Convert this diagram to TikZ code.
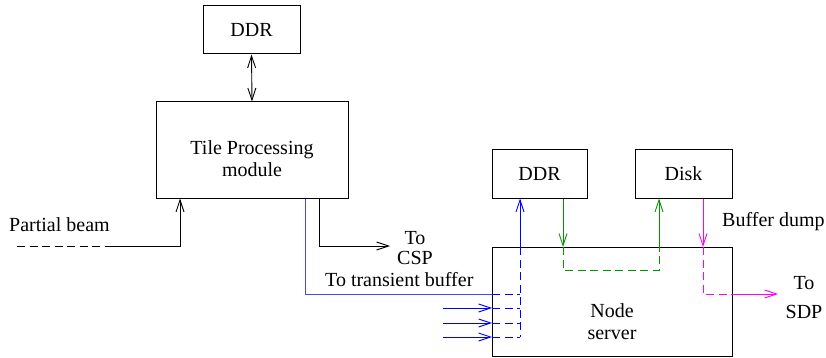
\documentclass[tikz,border=0pt]{standalone}
\usepackage{fontspec}
\setmainfont{Liberation Serif}
\usetikzlibrary{arrows.meta}
\definecolor{fblue}{RGB}{0,0,255}
\definecolor{lblue}{RGB}{70,70,255}
\definecolor{fgreen}{RGB}{0,150,0}
\definecolor{fmag}{RGB}{255,0,255}
\begin{document}
\begin{tikzpicture}[x=1pt,y=-1pt,
  every node/.style={font=\fontsize{20}{22}\selectfont, inner sep=0pt},
  box/.style={draw, line width=1pt, minimum width=#1},
  lbl/.style={align=center},
  conn/.style={line width=0.9pt},
  dsh/.style={line width=0.9pt, dash pattern=on 8pt off 4.5pt},
  >={Straight Barb[length=12pt,width=8pt]}]
\useasboundingbox (0,0) rectangle (826,358);
% boxes
\node[box=97pt, minimum height=48pt] (ddrA) at (251.5,30) {DDR};
\node[box=192pt, minimum height=96pt] (tpm) at (252,150) {};
\node[lbl] (tpmtext) at (252,159) {Tile Processing\\module};
\node[box=95pt, minimum height=48pt] (ddrB) at (539.5,174) {DDR};
\node[box=97pt, minimum height=48pt] (disk) at (683.5,174) {Disk};
\node[box=240pt, minimum height=109pt] (ns) at (612,301.5) {};
\node[lbl] (nstext) at (612,322) {Node\\server};
% labels
\node[anchor=west] (pbl) at (9,225) {Partial beam};
\node[lbl] (csp) at (415,248) {To\\[-2pt]CSP};
\node[anchor=west] (tbl) at (325,280) {To transient buffer};
\node[anchor=west] (bdl) at (722,222) {Buffer dump};
\node[lbl] (sdp) at (804,298) {To\\[7pt]SDP};
% DDR <-> TPM
\draw[conn,<->] (ddrA.south) -- (tpm.north);
% partial beam
\coordinate (pb0) at (17,246);
\coordinate (pb1) at (108,246);
\coordinate (pb2) at (180,246);
\draw[dsh] (pb0) -- (pb1);
\draw[conn,->] (pb1) -- (pb2) -- (tpm.south -| pb2);
% to CSP
\coordinate (c0) at (319,198);
\coordinate (c1) at (319,246);
\coordinate (c2) at (390,246);
\draw[conn,->] (tpm.south -| c0) -- (c1) -- (c2);
% blue transient buffer
\coordinate (b0) at (305,198);
\coordinate (b1) at (305,294);
\coordinate (b2) at (492,294);
\coordinate (bv) at (520,294);
\draw[conn,lblue] (tpm.south -| b0) -- (b1) -- (b2);
\draw[dsh,fblue] (b2) -- (bv);
\coordinate (bt) at (520,247);
\coordinate (bb) at (520,337);
\draw[dsh,fblue] (bt) -- (bb);
\draw[conn,fblue,->] (bt) -- (ddrB.south -| bt);
\foreach \yy/\nm in {308/i1,323/i2,337/i3}{
  \coordinate (\nm a) at (443,\yy);
  \coordinate (\nm b) at (492,\yy);
  \coordinate (\nm c) at (520,\yy);
  \draw[conn,fblue,->] (\nm a) -- (\nm b);
  \draw[dsh,fblue] (\nm b) -- (\nm c);
}
% green
\coordinate (g0) at (563,198);
\coordinate (g1) at (563,247);
\coordinate (g2) at (563,270);
\coordinate (g3) at (659,270);
\coordinate (g4) at (659,247);
\draw[conn,fgreen,->] (ddrB.south -| g0) -- (g1);
\draw[dsh,fgreen] (g1) -- (g2) -- (g3) -- (g4);
\draw[conn,fgreen,->] (g4) -- (disk.south -| g4);
% magenta
\coordinate (m0) at (703,198);
\coordinate (m1) at (703,247);
\coordinate (m2) at (703,294);
\coordinate (m3) at (732,294);
\coordinate (m4) at (778,294);
\draw[conn,fmag,->] (disk.south -| m0) -- (m1);
\draw[dsh,fmag] (m1) -- (m2) -- (m3);
\draw[conn,fmag,->] (m3) -- (m4);
\end{tikzpicture}
\end{document}
